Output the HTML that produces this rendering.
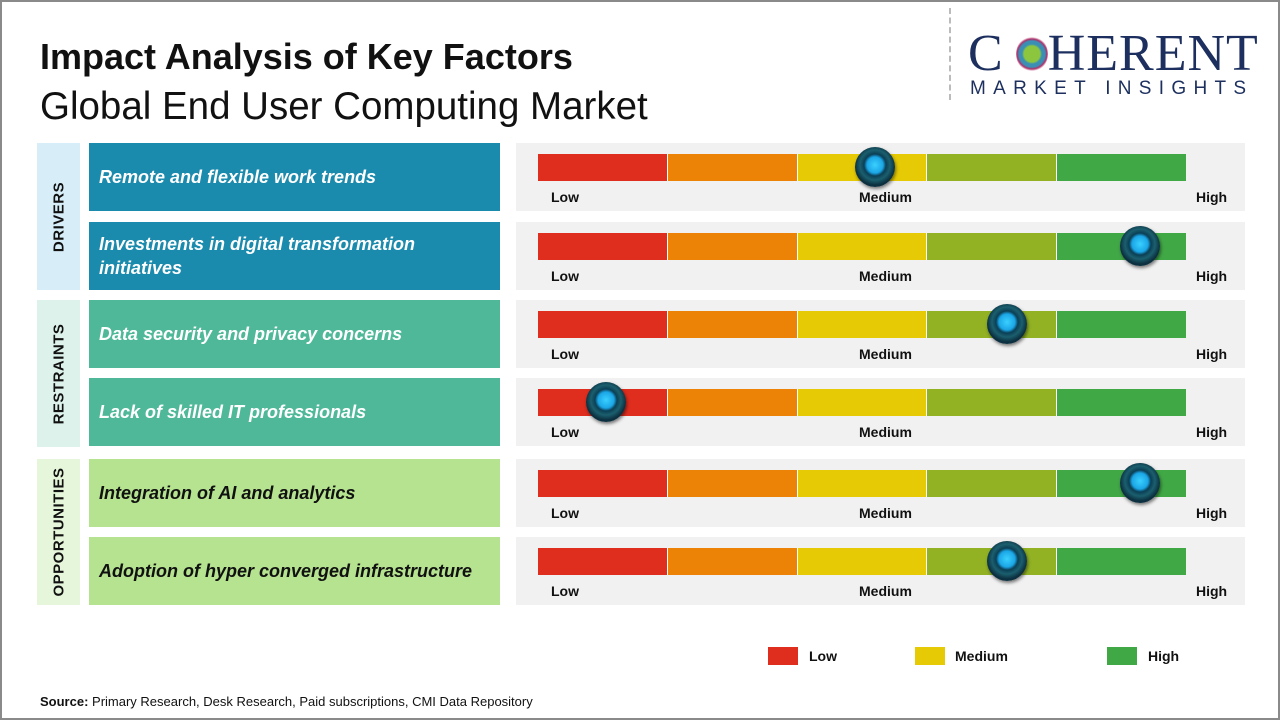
<!DOCTYPE html>
<html><head><meta charset="utf-8"><style>
*{margin:0;padding:0;box-sizing:border-box}
body{width:1280px;height:720px;position:relative;background:#fff;font-family:"Liberation Sans",sans-serif;overflow:hidden}
.frame{position:absolute;left:0;top:0;width:1280px;height:720px;border:2px solid #8a8a8a}
.t1{position:absolute;left:40px;top:36px;font-size:36px;font-weight:bold;color:#111}
.t2{position:absolute;left:40px;top:85px;font-size:38.5px;color:#111}
.cat{position:absolute;left:37px;width:43px}
.cat span{position:absolute;left:50%;top:50%;transform:translate(-50%,-50%) rotate(-90deg);font-weight:bold;font-size:15px;letter-spacing:0.5px;white-space:nowrap;color:#111}
.lab{position:absolute;left:89px;width:411px;height:68px;color:#fff;font-style:italic;font-weight:bold;font-size:18px;padding:0 10px;display:flex;align-items:center;line-height:24px}
.pan{position:absolute;left:516px;width:729px;height:68px;background:#f1f1f1}
.bar{position:absolute;left:22px;top:11px;height:27px;width:648px;display:flex}
.bar div{flex:1;border-right:1px solid #fff}
.bar div:last-child{border-right:none}
.pan b{position:absolute;top:46px;font-size:14px;color:#111}
.knob{position:absolute;width:40px;height:40px;border-radius:50%;top:4px;background:radial-gradient(circle at 50% 45%,#3ad0ff 0,#1ba6e6 8px,#0b3f55 11px,#1b5f6e 15px,#0c3040 20px);box-shadow:1px 2px 3px rgba(0,0,0,.5)}
.leg{position:absolute;top:647px;width:30px;height:18px}
.lt{position:absolute;top:648px;font-size:14px;font-weight:bold;color:#111}
</style></head><body>
<div class="frame"></div>
<div class="t1">Impact Analysis of Key Factors</div>
<div class="t2">Global End User Computing Market</div>
<div style="position:absolute;left:949px;top:8px;height:92px;border-left:2px dashed #bbb"></div>
<div style="position:absolute;left:968px;top:28px;font-family:'Liberation Serif',serif;font-size:52px;color:#1c2f5e;letter-spacing:1px;line-height:52px">C<span style="display:inline-block;width:44px"></span>HERENT</div>
<div style="position:absolute;left:1016px;top:36px;width:32px;height:36px;border-radius:50%;background:radial-gradient(circle,#8cc63f 0,#8cc63f 8px,#3a8fb5 10px,#3a8fb5 13px,#b0306a 15px,transparent 17px)"></div>
<div style="position:absolute;left:970px;top:78px;font-size:19px;color:#1c2f5e;letter-spacing:7.3px">MARKET INSIGHTS</div>

<div class="cat" style="top:143px;height:147px;background:#d7eef8"><span>DRIVERS</span></div>
<div class="cat" style="top:300px;height:147px;background:#dcf2ea"><span>RESTRAINTS</span></div>
<div class="cat" style="top:459px;height:146px;background:#e6f6da"><span>OPPORTUNITIES</span></div>

<div class="lab" style="top:143px;background:#1a8aad">Remote and flexible work trends</div>
<div class="lab" style="top:222px;background:#1a8aad">Investments in digital transformation initiatives</div>
<div class="lab" style="top:300px;background:#4fb899">Data security and privacy concerns</div>
<div class="lab" style="top:378px;background:#4fb899">Lack of skilled IT professionals</div>
<div class="lab" style="top:459px;background:#b5e38f;color:#111">Integration of AI and analytics</div>
<div class="lab" style="top:537px;background:#b5e38f;color:#111">Adoption of hyper converged infrastructure</div>

<div class="pan" style="top:143px"><div class="bar"><div style="background:#df2d1e"></div><div style="background:#ec8206"></div><div style="background:#e6ca05"></div><div style="background:#92b224"></div><div style="background:#41a846"></div></div><b style="left:35px">Low</b><b style="left:343px">Medium</b><b style="left:680px">High</b><div class="knob" style="left:339px"></div></div>
<div class="pan" style="top:222px"><div class="bar"><div style="background:#df2d1e"></div><div style="background:#ec8206"></div><div style="background:#e6ca05"></div><div style="background:#92b224"></div><div style="background:#41a846"></div></div><b style="left:35px">Low</b><b style="left:343px">Medium</b><b style="left:680px">High</b><div class="knob" style="left:604px"></div></div>
<div class="pan" style="top:300px"><div class="bar"><div style="background:#df2d1e"></div><div style="background:#ec8206"></div><div style="background:#e6ca05"></div><div style="background:#92b224"></div><div style="background:#41a846"></div></div><b style="left:35px">Low</b><b style="left:343px">Medium</b><b style="left:680px">High</b><div class="knob" style="left:471px"></div></div>
<div class="pan" style="top:378px"><div class="bar"><div style="background:#df2d1e"></div><div style="background:#ec8206"></div><div style="background:#e6ca05"></div><div style="background:#92b224"></div><div style="background:#41a846"></div></div><b style="left:35px">Low</b><b style="left:343px">Medium</b><b style="left:680px">High</b><div class="knob" style="left:70px"></div></div>
<div class="pan" style="top:459px"><div class="bar"><div style="background:#df2d1e"></div><div style="background:#ec8206"></div><div style="background:#e6ca05"></div><div style="background:#92b224"></div><div style="background:#41a846"></div></div><b style="left:35px">Low</b><b style="left:343px">Medium</b><b style="left:680px">High</b><div class="knob" style="left:604px"></div></div>
<div class="pan" style="top:537px"><div class="bar"><div style="background:#df2d1e"></div><div style="background:#ec8206"></div><div style="background:#e6ca05"></div><div style="background:#92b224"></div><div style="background:#41a846"></div></div><b style="left:35px">Low</b><b style="left:343px">Medium</b><b style="left:680px">High</b><div class="knob" style="left:471px"></div></div>

<div class="leg" style="left:768px;background:#df2d1e"></div><div class="lt" style="left:809px">Low</div>
<div class="leg" style="left:915px;background:#e6ca05"></div><div class="lt" style="left:955px">Medium</div>
<div class="leg" style="left:1107px;background:#41a846"></div><div class="lt" style="left:1148px">High</div>

<div style="position:absolute;left:40px;top:694px;font-size:13px;color:#111"><b>Source:</b> Primary Research, Desk Research, Paid subscriptions, CMI Data Repository</div>
</body></html>
